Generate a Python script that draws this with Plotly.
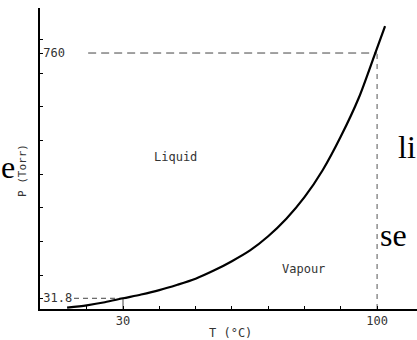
import plotly.graph_objects as go

# ---- data ----
T_curve = [14.6, 20, 25, 30, 35, 40, 45, 50, 55, 60, 65, 70, 75, 80, 85, 90, 95, 99.4, 102.2]
P_curve = [4, 11, 20, 31.8, 43, 56, 72, 90, 114, 142, 174, 216, 268, 332, 412, 512, 628, 757, 840]

x_tickvals = [20, 30, 40, 50, 60, 70, 80, 90, 100]
x_ticktext = ["", "30", "", "", "", "", "", "", "100"]
y_tickvals = [31.8, 100, 200, 300, 400, 500, 600, 700, 760, 800]
y_ticktext = ["31.8", "", "", "", "", "", "", "", "760", ""]

T_boil = 100
P_boil = 760
T_ref = 30
P_ref = 31.8

W, H = 417, 340
ML, MR, MT, MB = 40, 0, 8, 31
PW, PH = W - ML - MR, H - MT - MB


def px(x):
    return (x - ML) / PW


def py(y):
    return (H - MB - y) / PH


fig = go.Figure()

# dashed guides
fig.add_trace(go.Scatter(x=[20.4, T_boil], y=[P_boil, P_boil], mode="lines",
                         line=dict(color="#444", width=1, dash="8px,5px"), hoverinfo="skip"))
fig.add_trace(go.Scatter(x=[T_boil, T_boil], y=[0, P_boil], mode="lines",
                         line=dict(color="#555", width=1, dash="5px,5px"), hoverinfo="skip"))
fig.add_trace(go.Scatter(x=[16.5, T_ref], y=[P_ref, P_ref], mode="lines",
                         line=dict(color="#444", width=1, dash="5px,4px"), hoverinfo="skip"))
fig.add_trace(go.Scatter(x=[T_ref, T_ref], y=[0, P_ref], mode="lines",
                         line=dict(color="#444", width=1), hoverinfo="skip"))

# vapour pressure curve
fig.add_trace(go.Scatter(x=T_curve, y=P_curve, mode="lines",
                         line=dict(color="black", width=2.2, shape="spline", smoothing=0.8),
                         hoverinfo="skip"))

mono = "DejaVu Sans Mono"
lab_font = dict(family=mono, size=12, color="#333")
serif = dict(family="Liberation Serif", size=32, color="black")

annotations = [
    dict(x=px(175), y=py(157), text="Liquid", font=lab_font),
    dict(x=px(303), y=py(269), text="Vapour", font=lab_font),
    dict(x=px(231), y=py(333), text="T (°C)", font=dict(family=mono, size=12, color="#333")),
    dict(x=px(22), y=py(171), text="P (Torr)", textangle=-90,
         font=dict(family=mono, size=11, color="#333")),
    dict(x=px(-1), y=py(167), text="e", font=serif, xanchor="left"),
    dict(x=px(396), y=py(147), text="li", font=serif, xanchor="left"),
    dict(x=px(378), y=py(235), text="se", font=serif, xanchor="left"),
]
for a in annotations:
    a.setdefault("xanchor", "center")
    a.update(xref="paper", yref="paper", showarrow=False, yanchor="middle")

tick_font = dict(family=mono, size=12, color="#333")

fig.update_layout(
    width=W, height=H,
    margin=dict(l=ML, r=MR, t=MT, b=MB, pad=0),
    paper_bgcolor="white", plot_bgcolor="white",
    showlegend=False,
    annotations=annotations,
    xaxis=dict(range=[7.13, 111.0], showgrid=False, zeroline=False,
               showline=True, linecolor="black", linewidth=1.5,
               ticks="inside", ticklen=3, tickcolor="black", tickwidth=1,
               tickvals=x_tickvals, ticktext=x_ticktext, tickfont=tick_font),
    yaxis=dict(range=[0, 893.7], showgrid=False, zeroline=False,
               showline=True, linecolor="black", linewidth=1.5,
               ticks="inside", ticklen=3, tickcolor="black", tickwidth=1,
               tickvals=y_tickvals, ticktext=y_ticktext,
               ticklabelposition="inside", tickfont=tick_font),
)

fig.write_html("out.html")
